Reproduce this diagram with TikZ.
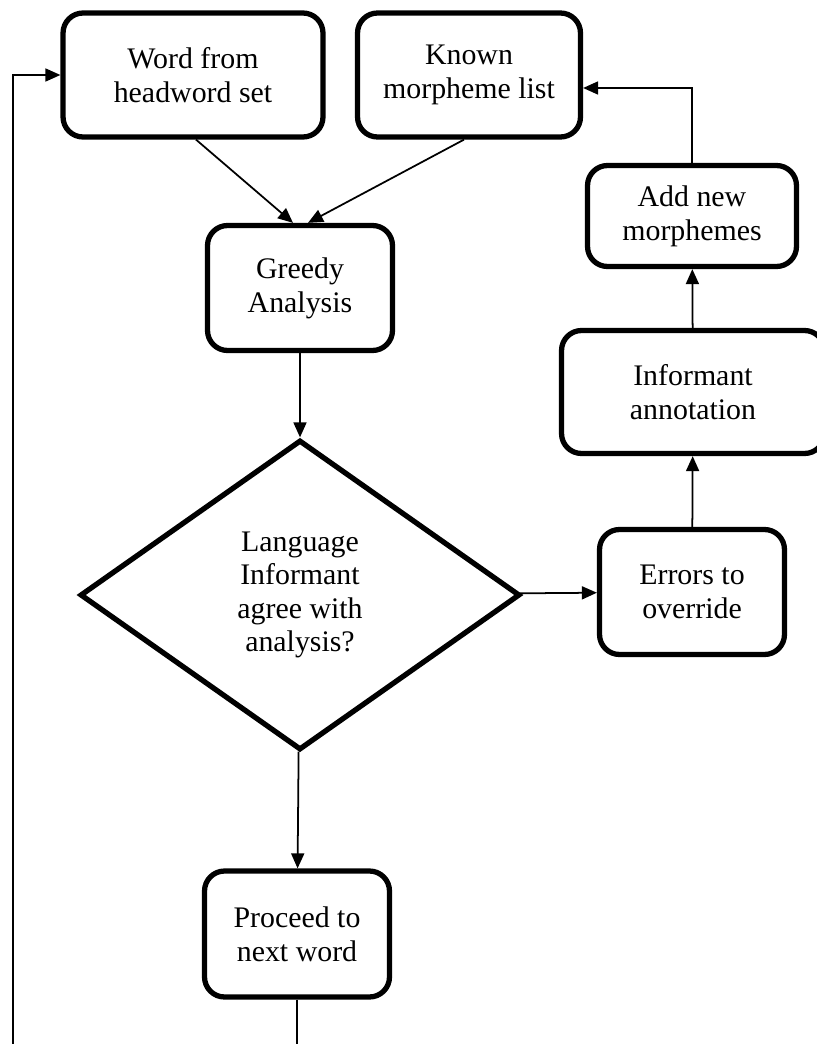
\documentclass[tikz,border=0pt]{standalone}
\usepackage{fontspec}
\setmainfont{Liberation Serif}
\usetikzlibrary{shapes.geometric,arrows.meta}

\begin{document}
\begin{tikzpicture}[
    x=0.02cm, y=-0.02cm,
    box/.style={draw, rounded corners=0.4cm, line width=3pt, align=center,
      inner sep=0pt, font=\fontsize{17}{19.5}\selectfont},
    decision/.style={diamond, draw, line width=3pt, align=center, inner sep=0pt,
      minimum width=8.8cm, minimum height=6.2cm, font=\fontsize{17}{19}\selectfont},
    >={Triangle[length=0.3cm, width=0.26cm]}, line width=1pt
  ]
  \useasboundingbox (0,0) rectangle (817,1044);
  \clip (0,0) rectangle (817,1044);
  \node[box, minimum width=5.2cm, minimum height=2.48cm] (word) at (193,75) {Word from\\headword set};
  \node[box, minimum width=4.46cm, minimum height=2.48cm] (known) at (469,75) {Known\\morpheme list};
  \node[box, minimum width=3.7cm, minimum height=2.5cm] (greedy) at (300,288) {Greedy\\Analysis};
  \node[decision] (agree) at (300,595) {Language\\Informant\\agree with\\analysis?};
  \node[box, minimum width=3.7cm, minimum height=2.52cm] (proceed) at (297,934) {Proceed to\\next word};
  \node[box, minimum width=3.7cm, minimum height=2.5cm] (errors) at (692,592) {Errors to\\override};
  \node[box, minimum width=5.26cm, minimum height=2.46cm] (annot) at (693,392) {Informant\\annotation};
  \node[box, minimum width=4.18cm, minimum height=2.02cm] (addnew) at (692,216) {Add new\\morphemes};
  \coordinate (loop) at (13,1090);
  \draw[->] ([xshift=0.06cm]word.south) -- ([xshift=-0.14cm]greedy.north);
  \draw[->] ([xshift=-0.1cm]known.south) -- ([xshift=0.16cm]greedy.north);
  \draw[->] (greedy) -- (agree);
  \draw[->] (agree) -- (proceed);
  \draw[->] (agree) -- (errors);
  \draw[->] (errors) -- (annot);
  \draw[->] (annot) -- (addnew);
  \draw[->] (addnew.north) |- ([yshift=-0.26cm]known.east);
  \draw[->] (proceed) -- (proceed |- loop) -- (loop) |- (word);
\end{tikzpicture}
\end{document}
